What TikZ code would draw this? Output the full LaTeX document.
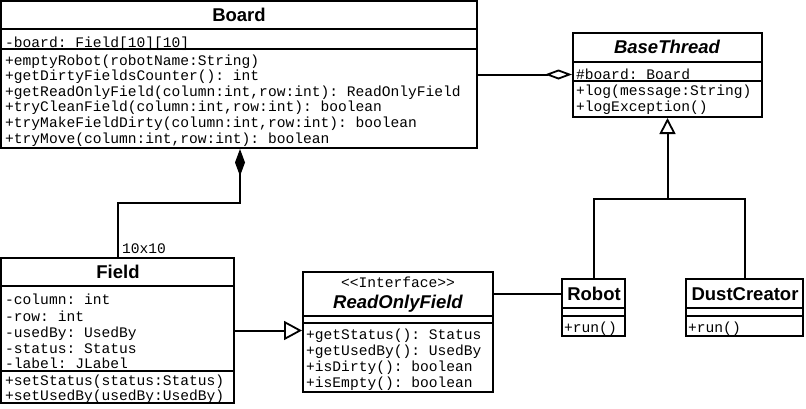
\documentclass[tikz,border=0pt]{standalone}
\usepackage{fontspec}
\setmainfont{Liberation Sans}
\setmonofont{Liberation Mono}
\usetikzlibrary{arrows.meta}
\newcommand{\umlmono}{\fontsize{14.6}{16}\selectfont\ttfamily}
\newcommand{\umltitle}{\fontsize{18.5}{20}\selectfont\bfseries}
\tikzset{
classbox/.style={draw,line width=2pt,inner sep=0pt,fill=white},
membr/.style={anchor=base west,inner sep=0pt,font=\umlmono},
ctitle/.style={anchor=base,inner sep=0pt,font=\umltitle},
umlline/.style={line width=2pt},
aggr/.style={umlline,-{Diamond[open,length=27pt,width=10pt,line width=1.8pt]}},
comp/.style={umlline,-{Diamond[length=27pt,width=10pt]}},
realz/.style={umlline,-{Triangle[open,length=18pt,width=19pt,line width=1.8pt]}},
gener/.style={umlline,-{Triangle[open,length=16pt,width=16pt,line width=1.8pt]}}
}
\begin{document}
\begin{tikzpicture}[line cap=butt,line join=miter,x=1pt,y=-1pt]
\useasboundingbox[fill=white] (0,0) rectangle (806,408);
% Board
\node[classbox,minimum width=476pt,minimum height=147pt] (board) at (239,74.5) {};
\draw[umlline] (1,29) -- (477,29);
\draw[umlline] (1,49) -- (477,49);
\node[ctitle] (boardt) at (239,21.6) {Board};
\node[membr] (b0) at (5,47) {-board: Field[10][10]};
\node[membr] (b1) at (5,65) {+emptyRobot(robotName:String)};
\node[membr] (b2) at (5,80) {+getDirtyFieldsCounter(): int};
\node[membr] (b3) at (5,96) {+getReadOnlyField(column:int,row:int): ReadOnlyField};
\node[membr] (b4) at (5,111) {+tryCleanField(column:int,row:int): boolean};
\node[membr] (b5) at (5,127) {+tryMakeFieldDirty(column:int,row:int): boolean};
\node[membr] (b6) at (5,143) {+tryMove(column:int,row:int): boolean};
% BaseThread
\node[classbox,minimum width=189pt,minimum height=84pt] (bt) at (667.5,75) {};
\draw[umlline] (573,62) -- (762,62);
\draw[umlline] (573,81) -- (762,81);
\node[ctitle,font=\umltitle\itshape] (btt) at (667,53.6) {BaseThread};
\node[membr] (t0) at (576,79) {\#board: Board};
\node[membr] (t1) at (576,95) {+log(message:String)};
\node[membr] (t2) at (576,111) {+logException()};
% Field
\node[classbox,minimum width=233pt,minimum height=145pt] (field) at (117.5,330.5) {};
\draw[umlline] (1,286) -- (234,286);
\draw[umlline] (1,371) -- (234,371);
\node[ctitle] (fieldt) at (118,278.6) {Field};
\node[membr] (f0) at (5,304) {-column: int};
\node[membr] (f1) at (5,321) {-row: int};
\node[membr] (f2) at (5,337) {-usedBy: UsedBy};
\node[membr] (f3) at (5,353) {-status: Status};
\node[membr] (f4) at (5,368) {-label: JLabel};
\node[membr] (f5) at (5,385) {+setStatus(status:Status)};
\node[membr] (f6) at (5,400) {+setUsedBy(usedBy:UsedBy)};
% ReadOnlyField
\node[classbox,minimum width=190pt,minimum height=120pt] (rof) at (398,332) {};
\draw[umlline] (303,316) -- (493,316);
\draw[umlline] (303,323) -- (493,323);
\node[membr,anchor=base] (rofs) at (398,287) {<{}<Interface>{}>};
\node[ctitle,font=\umltitle\itshape] (roft) at (398,308.6) {ReadOnlyField};
\node[membr] (r0) at (306,339) {+getStatus(): Status};
\node[membr] (r1) at (306,355) {+getUsedBy(): UsedBy};
\node[membr] (r2) at (306,371) {+isDirty(): boolean};
\node[membr] (r3) at (306,387) {+isEmpty(): boolean};
% Robot
\node[classbox,minimum width=63pt,minimum height=57pt] (robot) at (593.5,307.5) {};
\draw[umlline] (562,308) -- (625,308);
\draw[umlline] (562,316) -- (625,316);
\node[ctitle] (robott) at (594,300.6) {Robot};
\node[membr] (o0) at (564,332) {+run()};
% DustCreator
\node[classbox,minimum width=117pt,minimum height=57pt] (dust) at (744.5,307.5) {};
\draw[umlline] (686,308) -- (803,308);
\draw[umlline] (686,316) -- (803,316);
\node[ctitle] (dustt) at (745,300.6) {DustCreator};
\node[membr] (d0) at (688,332) {+run()};
% connectors
\coordinate (compturn) at (240,203);
\coordinate (genjoin) at (667.5,199);
\coordinate (assoc) at (0,294);
\draw[aggr] (board.east) -- (board.east -| bt.west);
\draw[comp] (field.north) |- (compturn) -- (compturn |- board.south);
\node[membr] (mult) at (122,253) {10x10};
\draw[realz] (field.east) -- (field.east -| rof.west);
\draw[umlline] (rof.east |- assoc) -- (robot.west |- assoc);
\draw[umlline] (robot.north) |- (genjoin) -| (dust.north);
\draw[gener] (genjoin) -- (bt.south);
\end{tikzpicture}
\end{document}
